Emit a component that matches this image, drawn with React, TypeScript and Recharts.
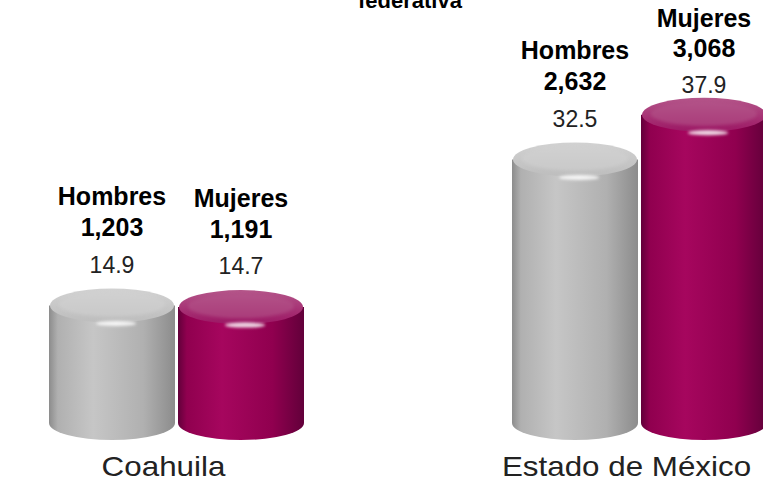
import { Bar, BarChart, LabelList, XAxis, YAxis } from 'recharts';

const categories = ['Coahuila', 'Estado de México'];
const hombresPct = [14.9, 32.5];
const mujeresPct = [14.7, 37.9];
const hombresTotal = ['1,203', '2,632'];
const mujeresTotal = ['1,191', '3,068'];

const data = categories.map((name, i) => ({
  name,
  hombres: hombresPct[i],
  mujeres: mujeresPct[i],
}));

const FONT = '"Liberation Sans", Arial, sans-serif';

const palettes: Record<string, { edge: string; mid: string; light: string; capTop: string; capBottom: string }> = {
  h: { edge: '#8c8c8c', mid: '#b0b0b0', light: '#c6c6c6', capTop: '#d2d2d2', capBottom: '#bdbdbd' },
  m: { edge: '#62003a', mid: '#90004f', light: '#a6065e', capTop: '#b4568a', capBottom: '#9c1764' },
};

const Cylinder = (props: any) => {
  const { x, y, width, height, index, kind } = props;
  const p = palettes[kind];
  const id = `${kind}${index}`;
  const ry = 17;
  const cx = x + width / 2;
  const topC = y + ry;
  const botC = y + height + 11;
  return (
    <g>
      <defs>
        <linearGradient id={`body-${id}`} x1="0" y1="0" x2="1" y2="0">
          <stop offset="0%" stopColor={p.edge} />
          <stop offset="7%" stopColor={p.mid} />
          <stop offset="35%" stopColor={p.light} />
          <stop offset="75%" stopColor={p.mid} />
          <stop offset="100%" stopColor={p.edge} />
        </linearGradient>
        <linearGradient id={`cap-${id}`} x1="0" y1="0" x2="0" y2="1">
          <stop offset="0%" stopColor={p.capTop} />
          <stop offset="100%" stopColor={p.capBottom} />
        </linearGradient>
        <filter id={`blur-${id}`} x="-50%" y="-200%" width="200%" height="500%">
          <feGaussianBlur stdDeviation="1.6" />
        </filter>
      </defs>
      <path
        d={`M${x},${topC} L${x},${botC} A${width / 2},${ry} 0 0 0 ${x + width},${botC} L${x + width},${topC} Z`}
        fill={`url(#body-${id})`}
      />
      <ellipse cx={cx} cy={topC} rx={width / 2 - 1} ry={ry} fill={`url(#cap-${id})`} />
      <ellipse cx={cx} cy={topC - 1} rx={width / 2 - 10} ry={ry - 5} fill={p.capTop} opacity={0.5} filter={`url(#blur-${id})`} />
      <ellipse cx={cx + 4} cy={topC + ry + 1} rx={width * 0.16} ry={2.5} fill="#ffffff" opacity={0.85} filter={`url(#blur-${id})`} />
    </g>
  );
};

const makeLabel = (kind: 'h' | 'm') => (props: any) => {
  const { x, y, width, index, value } = props;
  const cx = x + width / 2;
  const nameY = Math.max(y - 92, 18);
  const totalY = Math.max(y - 61, nameY + 30);
  const pctY = Math.max(y - 24, totalY + 37);
  const title = kind === 'h' ? 'Hombres' : 'Mujeres';
  const total = kind === 'h' ? hombresTotal[index] : mujeresTotal[index];
  return (
    <g fontFamily={FONT} textAnchor="middle" fill="#000">
      <text x={cx} y={nameY} dy="0.35em" fontSize={25} fontWeight="bold">{title}</text>
      <text x={cx} y={totalY} dy="0.35em" fontSize={25} fontWeight="bold">{total}</text>
      <text x={cx} y={pctY} dy="0.35em" fontSize={23} fill="#222">{value.toFixed(1)}</text>
    </g>
  );
};

const CategoryTick = (props: any) => {
  const { x, y, payload } = props;
  return (
    <text
      transform={`translate(${x - 13}, ${y + 56}) scale(1.12, 1)`}
      textAnchor="middle"
      fontFamily={FONT}
      fontSize={28}
      fill="#222"
    >
      {payload.value}
    </text>
  );
};

export default function App() {
  return (
    <div style={{ position: 'absolute', left: 0, top: 0, width: 763, height: 486, overflow: 'hidden', background: '#fff' }}>
      <div
        style={{
          position: 'absolute', top: -12, left: 0, width: 763, textAlign: 'center', paddingLeft: 57,
          boxSizing: 'border-box', fontFamily: FONT, fontWeight: 'bold', fontSize: 22, color: '#000',
        }}
      >
        federativa
      </div>
      <div style={{ position: 'absolute', left: -55, top: 0 }}>
        <BarChart
          width={926}
          height={486}
          data={data}
          margin={{ top: 14, right: 0, left: 0, bottom: 0 }}
          barSize={126}
          barGap={3}
        >
          <XAxis dataKey="name" height={74} axisLine={false} tickLine={false} tick={<CategoryTick />} interval={0} />
          <YAxis hide domain={[0, 48]} />
          <Bar dataKey="hombres" isAnimationActive={false} shape={(p: any) => <Cylinder {...p} kind="h" />}>
            <LabelList dataKey="hombres" content={makeLabel('h')} />
          </Bar>
          <Bar dataKey="mujeres" isAnimationActive={false} shape={(p: any) => <Cylinder {...p} kind="m" />}>
            <LabelList dataKey="mujeres" content={makeLabel('m')} />
          </Bar>
        </BarChart>
      </div>
    </div>
  );
}
